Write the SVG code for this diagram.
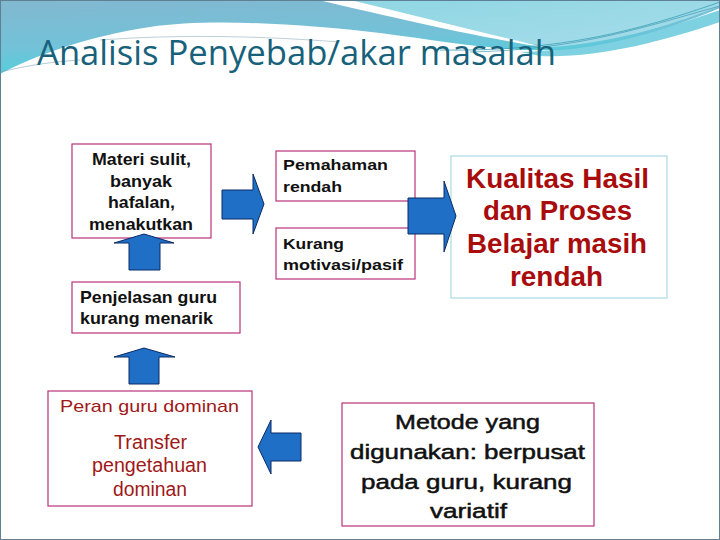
<svg xmlns="http://www.w3.org/2000/svg" width="720" height="540" viewBox="0 0 720 540">
<defs>
<linearGradient id="gBlue" x1="0" y1="0" x2="0.3" y2="1">
<stop offset="0" stop-color="#82b8d0"/>
<stop offset="0.6" stop-color="#72c2d8"/>
<stop offset="1" stop-color="#4fd0dc"/>
</linearGradient>
<linearGradient id="gLight" x1="0" y1="0" x2="1" y2="1">
<stop offset="0" stop-color="#8fd6e2"/>
<stop offset="1" stop-color="#a6dcea"/>
</linearGradient>
<style>
.box{fill:#ffffff;stroke:#b8327a;stroke-width:1.2}
.arrow{fill:#1f6fc6;stroke:#0b2a66;stroke-width:1}
.bk{font-family:"Liberation Sans",Arial,sans-serif;font-weight:bold;fill:#111111}
.md{font-family:"Liberation Sans",Arial,sans-serif;fill:#111111;stroke:#111111;stroke-width:0.5}
.red{font-family:"Liberation Sans",Arial,sans-serif;font-weight:bold;fill:#a80c0c}
.dred{font-family:"Liberation Sans",Arial,sans-serif;fill:#a01818}
</style>
</defs>
<rect x="0" y="0" width="720" height="540" fill="#ffffff"/>
<g id="header">
<path d="M0,0 H720 V8 C680,25 620,45 560,50 C500,52 450,42 380,33 C300,24 210,18 150,27 C90,36 35,55 0,74 Z" fill="url(#gBlue)"/>
<path d="M330,0 H720 V6 C680,22 620,42 552,47 C480,36 400,16 330,0 Z" fill="url(#gLight)"/>
<path d="M318,0 C380,14 460,34 548,48 C470,30 410,14 350,0 Z" fill="#ffffff"/>
<path d="M520,52 C600,50 660,30 720,10 V22 C660,42 600,58 540,56 Z" fill="#5cc6d8" opacity="0.8"/>
<path d="M440,50 C560,52 640,30 720,2" fill="none" stroke="#3aa0b8" stroke-width="0.8"/>
<path d="M470,52 C580,50 650,25 720,6" fill="none" stroke="#2f8fa8" stroke-width="0.6"/>
<path d="M100,40 C180,34 260,36 340,42" fill="none" stroke="#8aa8b8" stroke-width="0.8" opacity="0.7"/>
<path d="M0,72 C30,65 50,62 80,60" fill="none" stroke="#7aa0b0" stroke-width="0.8" opacity="0.7"/>
</g>
<rect x="0.5" y="0.5" width="719" height="539" fill="none" stroke="#5f7f95" stroke-width="1"/>
<text x="37" y="65" font-family="'Open Sans',sans-serif" font-size="35" fill="#17627a" textLength="519" lengthAdjust="spacingAndGlyphs">Analisis Penyebab/akar masalah</text>

<g id="n1">
<rect class="box" x="72" y="144" width="139" height="94"/>
<text class="bk" font-size="16.5" x="92" y="165" textLength="99" lengthAdjust="spacingAndGlyphs">Materi sulit,</text>
<text class="bk" font-size="16.5" x="110" y="187" textLength="62" lengthAdjust="spacingAndGlyphs">banyak</text>
<text class="bk" font-size="16.5" x="108" y="208" textLength="67" lengthAdjust="spacingAndGlyphs">hafalan,</text>
<text class="bk" font-size="16.5" x="89" y="230" textLength="104" lengthAdjust="spacingAndGlyphs">menakutkan</text>
</g>
<g id="n2">
<rect class="box" x="72" y="282" width="168" height="51"/>
<text class="bk" font-size="17" x="80" y="303" textLength="137" lengthAdjust="spacingAndGlyphs">Penjelasan guru</text>
<text class="bk" font-size="17" x="80" y="324" textLength="133" lengthAdjust="spacingAndGlyphs">kurang menarik</text>
</g>
<g id="n3">
<rect class="box" x="276" y="151" width="139" height="50"/>
<text class="bk" font-size="15.5" x="283" y="170" textLength="105" lengthAdjust="spacingAndGlyphs">Pemahaman</text>
<text class="bk" font-size="15.5" x="283" y="192" textLength="59" lengthAdjust="spacingAndGlyphs">rendah</text>
</g>
<g id="n4">
<rect class="box" x="276" y="228" width="139" height="51"/>
<text class="bk" font-size="15.5" x="283" y="249" textLength="61" lengthAdjust="spacingAndGlyphs">Kurang</text>
<text class="bk" font-size="15.5" x="283" y="270" textLength="120" lengthAdjust="spacingAndGlyphs">motivasi/pasif</text>
</g>
<g id="n5">
<rect x="451" y="156" width="216" height="142" fill="#ffffff" stroke="#a8dce2" stroke-width="1.2"/>
<text class="red" font-size="28" x="466" y="188" textLength="183" lengthAdjust="spacingAndGlyphs">Kualitas Hasil</text>
<text class="red" font-size="28" x="483" y="220" textLength="149" lengthAdjust="spacingAndGlyphs">dan Proses</text>
<text class="red" font-size="28" x="467" y="253" textLength="180" lengthAdjust="spacingAndGlyphs">Belajar masih</text>
<text class="red" font-size="28" x="510" y="286" textLength="93" lengthAdjust="spacingAndGlyphs">rendah</text>
</g>
<g id="n6">
<rect class="box" x="48" y="391" width="204" height="115"/>
<text class="dred" font-size="17" x="60" y="412" textLength="179" lengthAdjust="spacingAndGlyphs">Peran guru dominan</text>
<text class="dred" font-size="19.5" x="114" y="449" textLength="73" lengthAdjust="spacingAndGlyphs">Transfer</text>
<text class="dred" font-size="19.5" x="92" y="472" textLength="115" lengthAdjust="spacingAndGlyphs">pengetahuan</text>
<text class="dred" font-size="19.5" x="113" y="496" textLength="74" lengthAdjust="spacingAndGlyphs">dominan</text>
</g>
<g id="n7">
<rect class="box" x="342" y="403" width="252" height="123"/>
<text class="md" font-size="20.5" x="395" y="429" textLength="145" lengthAdjust="spacingAndGlyphs">Metode yang</text>
<text class="md" font-size="20.5" x="350" y="459" textLength="235" lengthAdjust="spacingAndGlyphs">digunakan: berpusat</text>
<text class="md" font-size="20.5" x="361" y="489" textLength="211" lengthAdjust="spacingAndGlyphs">pada guru, kurang</text>
<text class="md" font-size="20.5" x="430" y="518" textLength="77" lengthAdjust="spacingAndGlyphs">variatif</text>
</g>
<g id="connectors">
<polygon class="arrow" points="129,270 129,243 114,243 144,234 174,243 160,243 160,270"/>
<polygon class="arrow" points="129,384 129,357 114,357 144,348 175,357 159,357 159,384"/>
<polygon class="arrow" points="222,190 253,190 253,174 264,204 253,234 253,219 222,219"/>
<polygon class="arrow" points="408,198 444,198 444,181 456,216 444,252 444,234 408,234"/>
<polygon class="arrow" points="301,433 271,433 271,420 258,447 271,474 271,461 301,461"/>
</g>
</svg>
